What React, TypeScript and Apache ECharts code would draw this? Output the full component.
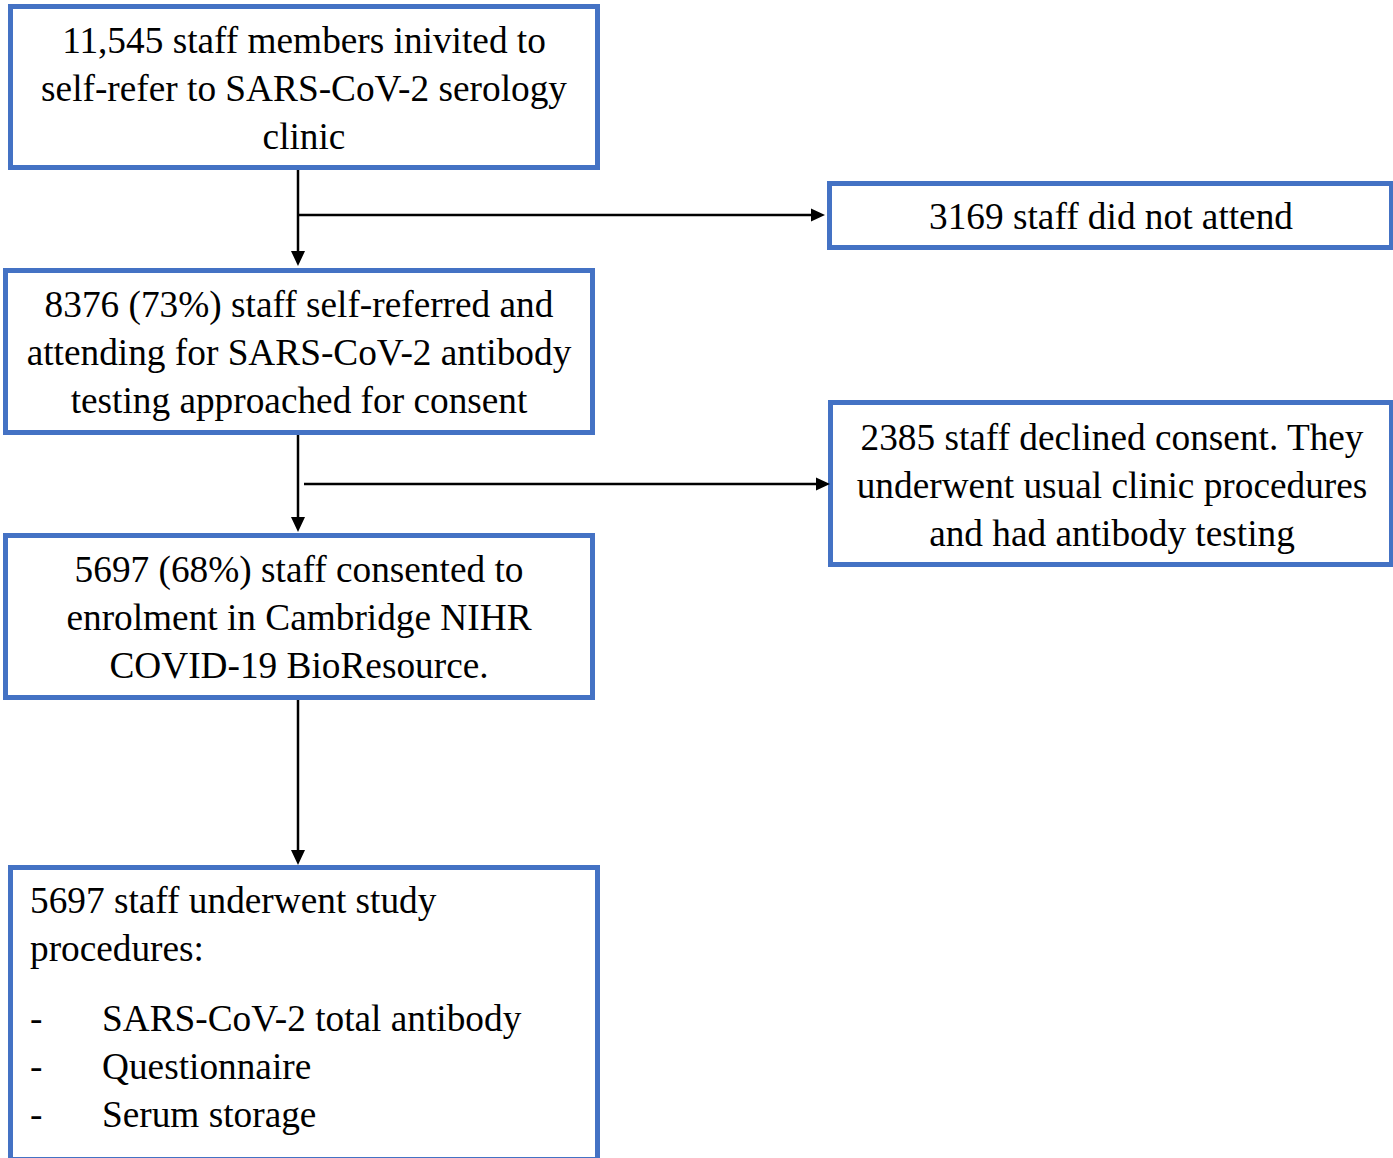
import React, { useEffect, useRef } from "react";
import * as echarts from "echarts";

// ---- Content ----
const box1Lines = ["11,545 staff members inivited to", "self-refer to SARS-CoV-2 serology", "clinic"];
const box2Lines = ["3169 staff did not attend"];
const box3Lines = ["8376 (73%) staff self-referred and", "attending for SARS-CoV-2 antibody", "testing approached for consent"];
const box4Lines = ["2385 staff declined consent. They", "underwent usual clinic procedures", "and had antibody testing"];
const box5Lines = ["5697 (68%) staff consented to", "enrolment in Cambridge NIHR", "COVID-19 BioResource."];
const box6Header = ["5697 staff underwent study", "procedures:"];
const box6Bullets = ["SARS-CoV-2 total antibody", "Questionnaire", "Serum storage"];

// ---- Layout (outer edges of boxes) ----
type Box = { x0: number; y0: number; x1: number; y1: number };
const B1: Box = { x0: 8, y0: 4, x1: 600, y1: 170 };
const B2: Box = { x0: 827, y0: 181, x1: 1394, y1: 250 };
const B3: Box = { x0: 3, y0: 268, x1: 595, y1: 435 };
const B4: Box = { x0: 828, y0: 400, x1: 1394, y1: 567 };
const B5: Box = { x0: 3, y0: 533, x1: 595, y1: 700 };
const B6: Box = { x0: 8, y0: 865, x1: 600, y1: 1162 };

const BORDER = 5;
const BLUE = "#4472C4";
const FONT_SIZE = 37.3;
const LINE_H = 48;
const FONT = `${FONT_SIZE}px "Liberation Serif", "Times New Roman", serif`;

function rectEl(b: Box) {
  const h = BORDER / 2;
  return {
    type: "rect",
    shape: { x: b.x0 + h, y: b.y0 + h, width: b.x1 - b.x0 - BORDER, height: b.y1 - b.y0 - BORDER },
    style: { fill: "#fff", stroke: BLUE, lineWidth: BORDER },
    z: 1,
  };
}

function centeredLines(lines: string[], cx: number, firstY: number) {
  return lines.map((t, i) => ({
    type: "text",
    x: cx,
    y: firstY + i * LINE_H,
    style: { text: t, font: FONT, fill: "#000", textAlign: "center", textVerticalAlign: "middle" },
    z: 5,
  }));
}

function leftText(t: string, x: number, y: number) {
  return {
    type: "text",
    x,
    y,
    style: { text: t, font: FONT, fill: "#000", textAlign: "left", textVerticalAlign: "middle" },
    z: 5,
  };
}

function vArrow(x: number, y0: number, tipY: number) {
  const headLen = 15;
  const halfW = 7;
  return [
    { type: "line", shape: { x1: x, y1: y0, x2: x, y2: tipY - headLen + 1 }, style: { stroke: "#000", lineWidth: 2.5 }, z: 3 },
    { type: "polygon", shape: { points: [[x - halfW, tipY - headLen], [x + halfW, tipY - headLen], [x, tipY]] }, style: { fill: "#000" }, z: 3 },
  ];
}

function hArrow(y: number, x0: number, tipX: number) {
  const headLen = 14;
  const halfW = 6.5;
  return [
    { type: "line", shape: { x1: x0, y1: y, x2: tipX - headLen + 1, y2: y }, style: { stroke: "#000", lineWidth: 2.5 }, z: 3 },
    { type: "polygon", shape: { points: [[tipX - headLen, y - halfW], [tipX - headLen, y + halfW], [tipX, y]] }, style: { fill: "#000" }, z: 3 },
  ];
}

export default function App() {
  const ref = useRef<HTMLDivElement>(null);
  useEffect(() => {
    if (!ref.current) return;
    const chart = echarts.init(ref.current, null, { renderer: "svg" });
    const cxOf = (b: Box) => (b.x0 + b.x1) / 2;
    const elements: any[] = [
      rectEl(B1),
      rectEl(B2),
      rectEl(B3),
      rectEl(B4),
      rectEl(B5),
      rectEl(B6),
      ...centeredLines(box1Lines, cxOf(B1), 40),
      ...centeredLines(box2Lines, 1111, 216),
      ...centeredLines(box3Lines, cxOf(B3), 304),
      ...centeredLines(box4Lines, 1112, 437),
      ...centeredLines(box5Lines, cxOf(B5), 569),
      ...box6Header.map((t, i) => leftText(t, 30, 900 + i * LINE_H)),
      ...box6Bullets.map((t, i) => leftText("-", 30, 1018 + i * LINE_H)),
      ...box6Bullets.map((t, i) => leftText(t, 102, 1018 + i * LINE_H)),
      ...vArrow(298, B1.y1, 266),
      ...hArrow(215, 298, 825),
      ...vArrow(298, B3.y1, 532),
      ...hArrow(484, 304, 830),
      ...vArrow(298, B5.y1, 865),
    ];
    chart.setOption({
      animation: false,
      backgroundColor: "#fff",
      graphic: { elements },
    });
    return () => chart.dispose();
  }, []);
  return (
    <div
      ref={ref}
      style={{ position: "absolute", left: 0, top: 0, width: 1393, height: 1158, background: "#fff" }}
    />
  );
}
